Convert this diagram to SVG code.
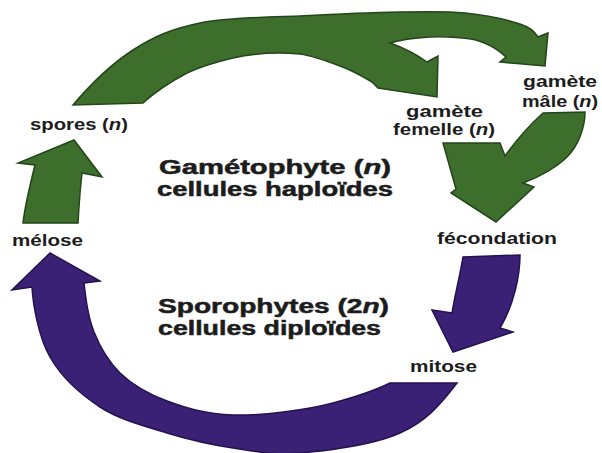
<svg xmlns="http://www.w3.org/2000/svg" width="602" height="453" viewBox="0 0 602 453">
<style>
.g{fill:#3d6e2c;stroke:#22461a;stroke-width:1.5;stroke-linejoin:miter}
.p{fill:#3a2176;stroke:#24124f;stroke-width:1.5}
.lbl{font-family:"Liberation Sans",Arial,sans-serif;font-weight:bold;font-size:16px;fill:#1c1c1c}
.big{font-family:"Liberation Sans",Arial,sans-serif;font-weight:bold;font-size:20px;fill:#1c1c1c;stroke:#1c1c1c;stroke-width:0.5}
.i{font-style:italic}
</style>
<rect width="602" height="453" fill="#ffffff"/>
<g id="connectors">
<path id="arc-spores-gametes" class="g" d="M73,105 C90,85 111.8,63.7 133,50 C154.2,36.3 172.2,28.7 200,23 C227.8,17.3 273.3,17 300,16 C333.3,14.2 372.5,12.5 400,12 C427.5,11.5 445,11 465,13 C485,15 507.8,20 520,24 C532.2,28 535,33 538,37 L548,33 L545,66 L500,62 L506,57 C493,45 478,39 463,38 C450,37 440,36 430,37 C415,38 400,40 390,43 Q410,50 427,62 L438,56 L437,97 L378,88 L372,82 C362,76 351,70 340,66 C327,61 314,56 300,54 C278,52 255,53 233,58 C216,62 200,67 187,73 C170,82 155,92 143,103 Z"/>
<path id="arrow-gametes-fecondation" class="g" d="M443,143 L500,143 L505,156 Q522,132 543,113 L585,112 C585,128 578,146 567,157 C558,166 540,177 523,183 L534,187 L496,222 L451,193 L456,189 Z"/>
<path id="arrow-meiose-spores" class="g" d="M23,223 C25,205 30,185 35,165 L18,163 L74,140 L102,177 L82,173 C80,190 79,205 78,223 Z"/>
<path id="arrow-fecondation-mitose" class="p" d="M463,257 L520,255 C520,275 514,305 500,328 L513,332 L453,352 L432,310 L452,313 C455,295 460,275 463,257 Z"/>
<path id="arc-mitose-meiose" class="p" d="M390,383 L457,383 C440,405 426.2,421.3 400,433 C373.8,444.7 327.8,450.5 300,453 C272.2,455.5 255.2,451.3 233,448 C210.8,444.7 189.2,439.8 167,433 C144.8,426.2 119.5,419.7 100,407 C80.5,394.3 61.3,377 50,357 C38.7,337 33,305 32,287 L12,290 L50,253 L100,281 L84,283 C86,300 88,317 94,332 C100,347 108,361 120,373 C132.5,385 148.2,394 167,401 C185.8,408 205.3,414 233,415 C260.7,416 306.8,410 333,403 C359.2,396 380,388 390,383 Z"/>
</g>
<g id="spores"><text class="lbl" x="30" y="130" textLength="98" lengthAdjust="spacingAndGlyphs">spores (<tspan class="i">n</tspan>)</text></g>
<g id="gamete-femelle"><text class="lbl" x="406" y="117" textLength="77" lengthAdjust="spacingAndGlyphs">gamète</text><text class="lbl" x="393" y="135" textLength="102" lengthAdjust="spacingAndGlyphs">femelle (<tspan class="i">n</tspan>)</text></g>
<g id="gamete-male"><text class="lbl" x="523" y="87" textLength="74" lengthAdjust="spacingAndGlyphs">gamète</text><text class="lbl" x="522" y="107" textLength="76" lengthAdjust="spacingAndGlyphs">mâle (<tspan class="i">n</tspan>)</text></g>
<g id="meiose"><text class="lbl" x="12" y="246" textLength="71" lengthAdjust="spacingAndGlyphs">mélose</text></g>
<g id="fecondation"><text class="lbl" x="437" y="244" textLength="120" lengthAdjust="spacingAndGlyphs">fécondation</text></g>
<g id="mitose"><text class="lbl" x="410" y="372" textLength="67" lengthAdjust="spacingAndGlyphs">mitose</text></g>
<g id="gametophyte"><text class="big" x="159" y="174" textLength="232" lengthAdjust="spacingAndGlyphs">Gamétophyte (<tspan class="i">n</tspan>)</text><text class="big" x="157" y="196" textLength="236" lengthAdjust="spacingAndGlyphs">cellules haploïdes</text></g>
<g id="sporophytes"><text class="big" x="158" y="313" textLength="231" lengthAdjust="spacingAndGlyphs">Sporophytes (2<tspan class="i">n</tspan>)</text><text class="big" x="158" y="335" textLength="223" lengthAdjust="spacingAndGlyphs">cellules diploïdes</text></g>
</svg>
